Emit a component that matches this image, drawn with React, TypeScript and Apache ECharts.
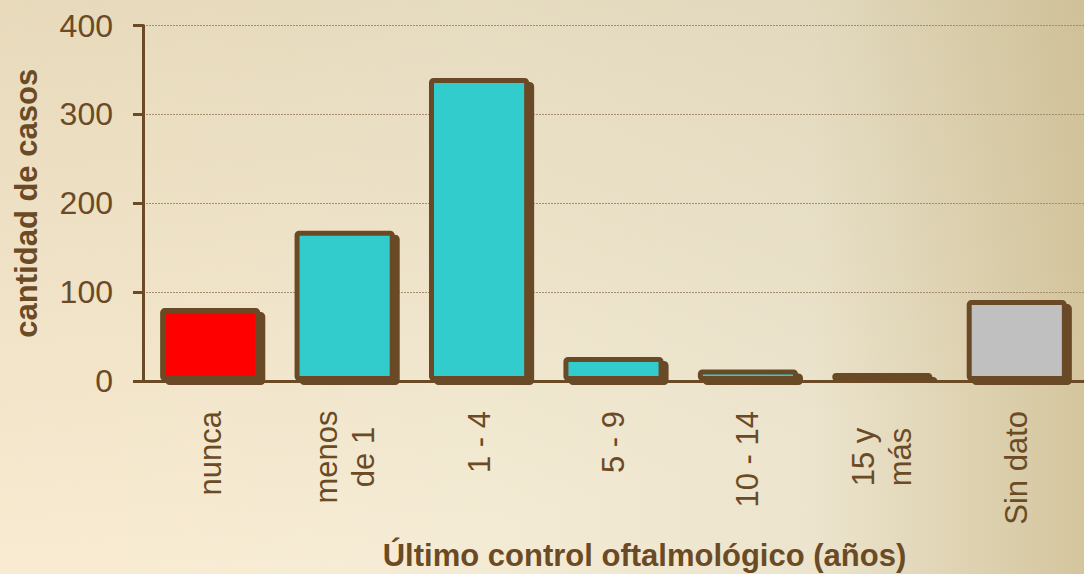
import React, { useEffect, useRef } from "react";
import * as echarts from "echarts";

const categories = ["nunca", "menos\nde 1", "1 - 4", "5 - 9", "10 - 14", "15 y\nmás", "Sin dato"];
const values = [82, 169, 341, 27, 13, 9, 91];
const barColors = ["#FF0000", "#33CCCC", "#33CCCC", "#33CCCC", "#33CCCC", "#33CCCC", "#C0C0C0"];
const yTicks = [0, 100, 200, 300, 400];

const BROWN = "#6B4A26";
const FONT = "'Liberation Sans', Arial, sans-serif";

export default function App() {
  const ref = useRef<HTMLDivElement>(null);
  useEffect(() => {
    if (!ref.current) return;
    const chart = echarts.init(ref.current, null, { renderer: "svg" });
    chart.setOption({
      animation: false,
      backgroundColor: new echarts.graphic.LinearGradient(0, 0, 1, 0, [
        { offset: 0, color: "#FCEED5" },
        { offset: 0.45, color: "#F4EBD4" },
        { offset: 0.75, color: "#ECE4CD" },
        { offset: 1, color: "#D4C59D" },
      ]),
      graphic: [
        {
          type: "rect",
          z: -1,
          silent: true,
          shape: { x: 0, y: 0, width: 1084, height: 574 },
          style: {
            fill: new echarts.graphic.LinearGradient(0, 0, 0.5, 0.9, [
              { offset: 0, color: "rgba(180,165,120,0.28)" },
              { offset: 1, color: "rgba(180,165,120,0)" },
            ]),
          },
        },
      ],
      grid: { left: 143, right: 0, top: 25.5, bottom: 193, outerBoundsMode: "none", containLabel: false },
      xAxis: {
        type: "category",
        data: categories,
        axisLine: { lineStyle: { color: BROWN, width: 3 } },
        axisTick: { length: 10, lineStyle: { color: BROWN, width: 3 } },
        axisLabel: {
          rotate: 90,
          margin: 30,
          interval: 0,
          color: BROWN,
          fontFamily: FONT,
          fontSize: 31,
          lineHeight: 37,
          formatter: (v: string) => {
            if (v.indexOf("\n") < 0) return v;
            return v
              .split("\n")
              .map((s) => "{c|" + s + "}")
              .join("\n");
          },
          rich: {
            c: { width: 92, align: "center", fontSize: 31, lineHeight: 37, color: BROWN, fontFamily: FONT },
          },
        },
        name: "Último control oftalmológico (años)",
        nameLocation: "middle",
        nameGap: 159,
        nameTextStyle: {
          color: BROWN,
          fontFamily: FONT,
          fontSize: 31,
          fontWeight: "bold",
          padding: [0, 0, 0, 62],
        },
      },
      yAxis: {
        type: "value",
        min: yTicks[0],
        max: yTicks[yTicks.length - 1],
        interval: 100,
        axisLine: { show: true, lineStyle: { color: BROWN, width: 3 } },
        axisTick: { show: true, length: 10, lineStyle: { color: BROWN, width: 3 } },
        axisLabel: { margin: 30, color: BROWN, fontFamily: FONT, fontSize: 32 },
        splitLine: { show: true, lineStyle: { color: "#A58E70", width: 1, type: [2, 1] } },
        name: "cantidad de casos",
        nameLocation: "middle",
        nameGap: 101,
        nameTextStyle: { color: BROWN, fontFamily: FONT, fontSize: 31, fontWeight: "bold" },
      },
      series: [
        {
          type: "bar",
          barWidth: "74.5%",
          data: values.map((v, i) => ({
            value: v,
            itemStyle: { color: barColors[i] },
          })),
          itemStyle: {
            borderColor: BROWN,
            borderWidth: 5,
            borderRadius: 2,
            shadowColor: BROWN,
            shadowBlur: 0,
            shadowOffsetX: 5,
            shadowOffsetY: 4,
          },
        },
      ],
    });
    return () => chart.dispose();
  }, []);
  return (
    <div
      ref={ref}
      style={{ position: "fixed", left: 0, top: 0, width: 1084, height: 574 }}
    />
  );
}
